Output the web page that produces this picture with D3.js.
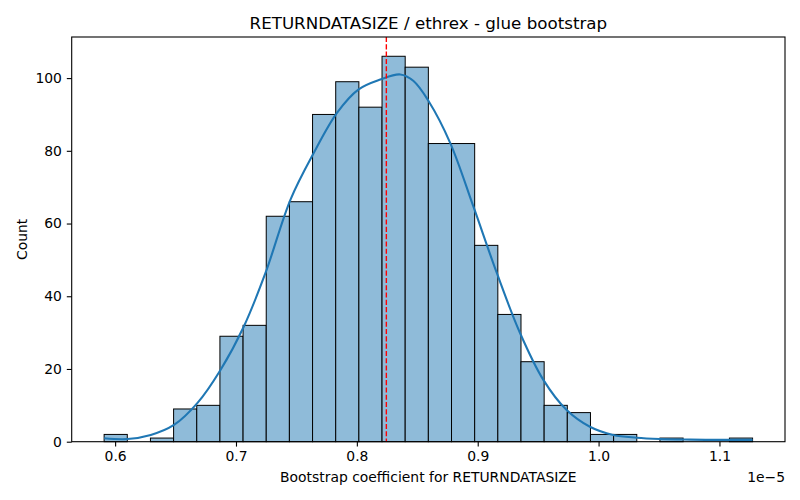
<!DOCTYPE html>
<html>
<head>
<meta charset="utf-8">
<script src="https://cdn.jsdelivr.net/npm/d3@7"></script>
<style>
  html, body { margin: 0; padding: 0; background: #fff; }
  svg { display: block; font-family: "DejaVu Sans", sans-serif; }
</style>
</head>
<body>
<svg id="chart" width="800" height="500"></svg>
<script>
// ---- data (x values in units of 1e-5) ----
const binStart = 0.5909;
const binWidth = 0.019161;
const counts = [2, 0, 1, 9, 10, 29, 32, 62, 66, 90, 99, 92, 106, 103, 82, 82, 54, 35, 22, 10, 8, 2, 2, 0, 1, 0, 0, 1];
const kdeX = [0.5909, 0.6102, 0.6295, 0.6487, 0.6680, 0.6873, 0.7065, 0.7244, 0.7451, 0.7643, 0.7837, 0.8015, 0.8194, 0.8359, 0.8469, 0.8593, 0.8772, 0.8964, 0.9158, 0.9350, 0.9543, 0.9736, 0.9928, 1.0121, 1.0314, 1.0506, 1.0696, 1.0886, 1.1084, 1.1274];
const kdeY = [0.94, 0.74, 1.85, 4.6, 10.6, 19.8, 31.7, 46.4, 66.6, 79.4, 90.5, 96.9, 99.6, 101, 99.2, 93.7, 82.2, 64.7, 46.4, 29.9, 17, 8.7, 4.1, 1.85, 1.1, 0.74, 0.6, 0.5, 0.5, 0.5];
const meanValue = 0.8244;
const xTicks = [0.6, 0.7, 0.8, 0.9, 1.0, 1.1];
const yTicks = [0, 20, 40, 60, 80, 100];
const titleText = "RETURNDATASIZE / ethrex - glue bootstrap";
const xLabel = "Bootstrap coefficient for RETURNDATASIZE";
const yLabel = "Count";
const offsetText = "1e\u22125";

// ---- layout ----
const mLeft = 71.7, mRight = 785, mTop = 37, mBottom = 441.7;
const svg = d3.select("#chart");

const bins = counts.map((c, i) => ({ x0: binStart + i * binWidth, x1: binStart + (i + 1) * binWidth, n: c }));
const dataMin = bins[0].x0, dataMax = bins[bins.length - 1].x1;
const pad = (dataMax - dataMin) * 0.05;
const x = d3.scaleLinear().domain([dataMin - pad, dataMax + pad]).range([mLeft, mRight]);
const y = d3.scaleLinear().domain([0, d3.max(counts) * 1.05]).range([mBottom, mTop]);

// bars
svg.append("g").selectAll("rect").data(bins.filter(b => b.n > 0)).join("rect")
  .attr("x", d => x(d.x0))
  .attr("y", d => y(d.n))
  .attr("width", d => x(d.x1) - x(d.x0))
  .attr("height", d => y(0) - y(d.n))
  .attr("fill", "#8fbbd9")
  .attr("stroke", "#000")
  .attr("stroke-width", 1);

// KDE line
const line = d3.line().x((d, i) => x(kdeX[i])).y(d => y(d)).curve(d3.curveCatmullRom.alpha(0.5));
svg.append("path").datum(kdeY)
  .attr("d", line)
  .attr("fill", "none")
  .attr("stroke", "#1f77b4")
  .attr("stroke-width", 2.08);

// mean line
svg.append("line")
  .attr("x1", x(meanValue)).attr("x2", x(meanValue))
  .attr("y1", mTop).attr("y2", mBottom)
  .attr("stroke", "red")
  .attr("stroke-width", 1.39)
  .attr("stroke-dasharray", "5.1,2.2");

// axes
const xAxis = d3.axisBottom(x).tickValues(xTicks).tickFormat(d3.format(".1f")).tickSizeOuter(0).tickSize(4.9).tickPadding(4.9);
const yAxis = d3.axisLeft(y).tickValues(yTicks).tickFormat(d3.format("d")).tickSizeOuter(0).tickSize(4.9).tickPadding(4.9);

const gx = svg.append("g").attr("transform", `translate(0,${mBottom})`).call(xAxis);
const gy = svg.append("g").attr("transform", `translate(${mLeft},0)`).call(yAxis);
[gx, gy].forEach(g => {
  g.select(".domain").remove();
  g.selectAll(".tick line").attr("stroke", "#000").attr("stroke-width", 1.1);
  g.selectAll(".tick text").attr("fill", "#000").style("font-size", "13.9px").style("font-family", "DejaVu Sans, sans-serif");
});

// frame
svg.append("rect")
  .attr("x", mLeft).attr("y", mTop)
  .attr("width", mRight - mLeft).attr("height", mBottom - mTop)
  .attr("fill", "none").attr("stroke", "#000").attr("stroke-width", 1.1);

// texts
svg.append("text").attr("x", (mLeft + mRight) / 2).attr("y", 29)
  .attr("text-anchor", "middle").style("font-size", "16.7px").text(titleText);
svg.append("text").attr("x", (mLeft + mRight) / 2).attr("y", 482)
  .attr("text-anchor", "middle").style("font-size", "13.9px").text(xLabel);
svg.append("text").attr("x", mRight).attr("y", 482)
  .attr("text-anchor", "end").style("font-size", "13.9px").text(offsetText);
svg.append("text").attr("transform", `translate(27,${(mTop + mBottom) / 2}) rotate(-90)`)
  .attr("text-anchor", "middle").style("font-size", "13.9px").text(yLabel);
</script>
</body>
</html>
